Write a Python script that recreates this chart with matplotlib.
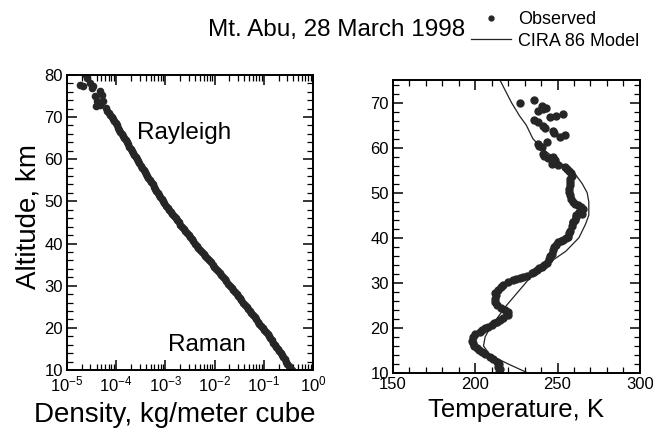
import matplotlib
matplotlib.use("Agg")
import matplotlib.pyplot as plt
from matplotlib.ticker import MultipleLocator, LogLocator, NullFormatter

plt.rcParams['font.family'] = ['Liberation Sans', 'DejaVu Sans']
plt.rcParams['mathtext.default'] = 'regular'

# density profile (Rayleigh + Raman lidar), altitude km / density kg m^-3
dens_alt = [10, 10.5, 11, 11.5, 12, 12.5, 13, 13.5, 14, 14.5, 15, 15.5, 16, 16.5, 17, 17.5,
            18, 18.5, 19, 19.5, 20, 20.5, 21, 21.5, 22, 22.5, 23, 23.5, 24, 24.5, 25, 25.5,
            26, 26.5, 27, 27.5, 28, 28.5, 29, 29.5, 30, 30.5, 31, 31.5, 32, 32.5, 33, 33.5,
            34, 34.5, 35, 35.5, 36, 36.5, 37, 37.5, 38, 38.5, 39, 39.5, 40, 40.5, 41, 41.5,
            42, 42.5, 43, 43.5, 44, 44.5, 45, 45.5, 46, 46.5, 47, 47.5, 48, 48.5, 49, 49.5,
            50, 50.5, 51, 51.5, 52, 52.5, 53, 53.5, 54, 54.5, 55, 55.5, 56, 56.5, 57, 57.5,
            58, 58.5, 59, 59.5, 60, 60.5, 61, 61.5, 62, 62.5, 63, 63.5, 64, 64.5, 65, 65.5,
            66, 66.5, 67, 67.5, 68, 68.5, 69, 69.5, 70, 70.5, 71.0, 71.5]
dens_val = [0.372, 0.347, 0.324, 0.302, 0.282, 0.266, 0.251, 0.234, 0.219, 0.204, 0.191, 0.178,
            0.166, 0.156, 0.145, 0.134, 0.126, 0.119, 0.110, 0.102, 0.0955, 0.0885, 0.0813, 0.0760,
            0.0708, 0.0651, 0.0603, 0.0558, 0.0513, 0.0478, 0.0447, 0.0412, 0.0380, 0.0352, 0.0324,
            0.0301, 0.0282, 0.0262, 0.0240, 0.0221, 0.0204, 0.0189, 0.0174, 0.0160, 0.0148, 0.0137,
            0.0126, 0.0116, 0.0107, 0.00990, 0.00912, 0.00840, 0.00776, 0.00712, 0.00646, 0.00598,
            0.00550, 0.00506, 0.00468, 0.00432, 0.00398, 0.00372, 0.00347, 0.00320, 0.00295, 0.00272,
            0.00251, 0.00234, 0.00219, 0.00202, 0.00186, 0.00174, 0.00162, 0.00149, 0.00138, 0.00128,
            0.00120, 0.00111, 0.00102, 9.55e-4, 8.91e-4, 8.40e-4, 7.94e-4, 7.41e-4, 6.92e-4, 6.54e-4,
            6.17e-4, 5.82e-4, 5.50e-4, 5.13e-4, 4.79e-4, 4.52e-4, 4.27e-4, 4.03e-4, 3.80e-4, 3.59e-4,
            3.39e-4, 3.16e-4, 2.95e-4, 2.79e-4, 2.63e-4, 2.48e-4, 2.34e-4, 2.21e-4, 2.09e-4, 1.97e-4,
            1.86e-4, 1.76e-4, 1.66e-4, 1.55e-4, 1.45e-4, 1.37e-4, 1.29e-4, 1.22e-4, 1.15e-4, 1.08e-4,
            1.02e-4, 9.7e-5, 9.1e-5, 8.6e-5, 8.1e-5, 7.6e-5, 7.0e-5, 6.6e-5]
# scattered points near the top of the Rayleigh profile
top_alt = [72.1, 72.5, 72.9, 73.7, 73.7, 74.9, 75.3, 76.1, 76.9, 77.3, 77.3, 77.7, 78.1, 79.3, 80.1]
top_val = [6.2e-5, 3.9e-5, 4.7e-5, 4.0e-5, 5.5e-5, 3.7e-5, 5.1e-5, 4.7e-5, 3.2e-5, 3.4e-5,
           2.1e-5, 1.8e-5, 2.9e-5, 2.5e-5, 2.3e-5]

# observed temperature, K
temp_obs = [214.5, 215.0, 214.0, 214.2, 213.0, 211.0, 208.9, 206.0, 203.9, 202.0,
            200.8, 199.5, 198.4, 198.0, 198.8, 200.0, 202.8, 204.0, 205.9, 207.5,
            209.9, 211.5, 213.0, 215.0, 217.0, 220.0, 219.0, 220.0, 218.0, 215.5,
            213.0, 211.9, 212.0, 212.5, 212.0, 214.0, 215.5, 217.0, 220.1, 223.1,
            225.0, 227.1, 229.0, 231.2, 234.2, 236.0, 237.3, 239.0, 240.3, 242.0,
            243.3, 244.9, 245.5, 246.4, 247.0, 247.8, 249.0, 250.4, 252.0, 253.4,
            255.0, 256.4, 257.0, 257.5, 258.5, 259.5, 260.5, 261.5, 259.1, 261.5,
            263.0, 264.6, 265.2, 264.0, 262.5, 260.8, 259.5, 258.0, 257.5, 257.0,
            257.1, 257.3, 257.5, 257.3, 258.5, 258.0, 257.1, 256.0, 254.4, 250.4,
            246.4, 248.5, 247.4, 244.0, 242.0, 241.3, 240.3, 238.9, 238.2, 243.3,
            254.4, 251.8, 247.8, 247.0, 242.3, 240.9, 238.2, 235.6, 253.4, 249.3,
            245.3, 240.9, 238.0, 242.9, 240.3, 235.6, 227.1]
alt_obs = [10.3, 10.8, 11.4, 11.9, 12.5, 13.0, 13.6, 14.2, 14.7, 15.0,
           15.5, 16.0, 16.6, 17.2, 18.0, 18.6, 19.1, 19.5, 19.9, 20.2,
           20.6, 21.0, 21.3, 21.7, 22.1, 22.8, 23.2, 23.5, 23.9, 24.5,
           25.0, 25.8, 26.5, 27.3, 27.8, 28.4, 29.0, 29.5, 30.2, 30.6,
           30.8, 31.0, 31.2, 31.5, 32.1, 32.5, 32.8, 33.2, 33.5, 34.0,
           34.3, 35.4, 36.0, 36.5, 37.3, 37.9, 38.5, 39.0, 39.3, 39.6,
           40.0, 40.2, 41.0, 41.6, 42.6, 43.5, 44.0, 45.0, 43.5, 44.6,
           45.8, 45.3, 46.4, 46.9, 47.2, 47.6, 47.9, 48.6, 49.4, 50.1,
           50.9, 51.6, 52.3, 53.0, 53.8, 54.4, 54.9, 55.2, 55.6, 56.2,
           56.4, 57.3, 57.9, 57.6, 58.2, 58.6, 60.1, 60.4, 60.8, 61.3,
           62.8, 62.3, 63.2, 63.8, 64.3, 64.9, 65.6, 66.2, 67.5, 67.1,
           66.7, 68.6, 68.2, 68.9, 69.3, 70.5, 70.0]

# CIRA 86 model temperature
model_alt = [10, 12, 14, 16, 18, 20, 22, 25, 28, 31, 34, 37, 40, 43, 45, 48,
             50, 52, 54, 56, 58, 60, 62, 65, 67, 70, 75]
model_temp = [232, 220, 209, 205, 206, 209, 213, 219, 226, 233, 243, 255, 263, 267, 269, 269,
              268, 265, 261, 254, 247, 240, 235, 231, 227, 222, 215]

fig = plt.figure(figsize=(6.53, 4.34), dpi=100)
ax1 = fig.add_axes([0.1026, 0.1475, 0.3767, 0.680])
ax2 = fig.add_axes([0.6018, 0.1406, 0.378, 0.675])

dot = '#262626'
ax1.plot(dens_val, dens_alt, 'o', color=dot, ms=4.5, mec=dot)
ax1.plot(top_val, top_alt, 'o', color=dot, ms=4.5, mec=dot)
ax1.set_xscale('log')
ax1.set_xlim(1e-5, 1)
ax1.set_ylim(10, 80)
ax1.yaxis.set_major_locator(MultipleLocator(10))
ax1.yaxis.set_minor_locator(MultipleLocator(2))
ax1.xaxis.set_major_locator(LogLocator(base=10, numticks=10))
ax1.xaxis.set_minor_locator(LogLocator(base=10, subs=range(2, 10), numticks=20))
ax1.xaxis.set_minor_formatter(NullFormatter())
ax1.text(2.6e-4, 66.3, 'Rayleigh', fontsize=17.5, va='center')
ax1.text(1.12e-3, 15.9, 'Raman', fontsize=17.5, va='center')
ax1.set_xlabel('Density, kg/meter cube', fontsize=20)
ax1.xaxis.set_label_coords(0.44, -0.108)
ax1.set_ylabel('Altitude, km', fontsize=20)
ax1.yaxis.set_label_coords(-0.103, 0.52)

obs, = ax2.plot(temp_obs, alt_obs, 'o', color=dot, ms=5, mec=dot)
mod, = ax2.plot(model_temp, model_alt, '-', color='#222222', lw=0.9)
ax2.set_xlim(150, 300)
ax2.set_ylim(10, 75)
ax2.xaxis.set_major_locator(MultipleLocator(50))
ax2.xaxis.set_minor_locator(MultipleLocator(10))
ax2.yaxis.set_major_locator(MultipleLocator(10))
ax2.yaxis.set_minor_locator(MultipleLocator(2))
ax2.set_xlabel('Temperature, K', fontsize=18.5, labelpad=4)

for ax in (ax1, ax2):
    for s in ax.spines.values():
        s.set_linewidth(1.4)
    ax.tick_params(which='both', direction='in', top=True, right=True, labelsize=12, pad=3)
    ax.tick_params(which='major', length=7, width=1.1)
    ax.tick_params(which='minor', length=4, width=0.9)

fig.text(0.712, 0.931, 'Mt. Abu, 28 March 1998', fontsize=17.5, ha='right', va='center')
fig.legend([obs, mod], ['Observed', 'CIRA 86 Model'], loc='upper left',
           bbox_to_anchor=(0.697, 1.012), frameon=False, fontsize=13,
           handlelength=2.2, handletextpad=0.4, labelspacing=0.25, markerscale=0.7)

fig.savefig('out.png', dpi=100)
